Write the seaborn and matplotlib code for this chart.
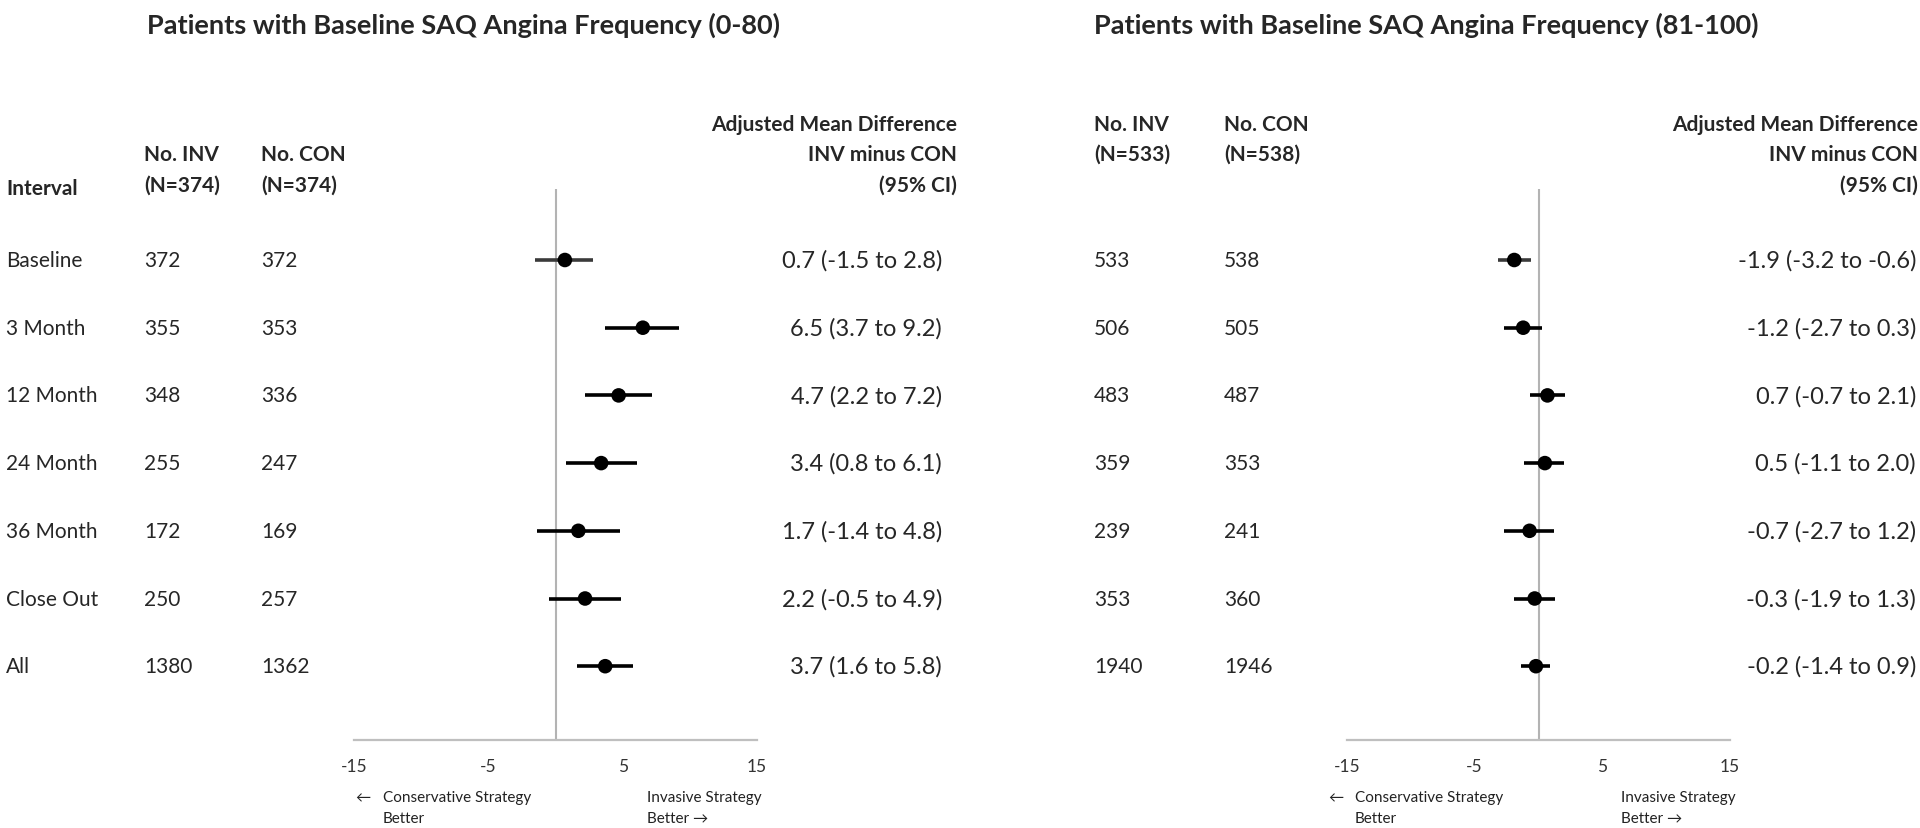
import matplotlib
matplotlib.use("Agg")
import matplotlib.pyplot as plt
import matplotlib.transforms as mtransforms
import seaborn as sns
import pandas as pd

# Data
intervals = ['Baseline', '3 Month', '12 Month', '24 Month', '36 Month', 'Close Out', 'All']

left_inv = [372, 355, 348, 255, 172, 250, 1380]
left_con = [372, 353, 336, 247, 169, 257, 1362]
left_mean = [0.7, 6.5, 4.7, 3.4, 1.7, 2.2, 3.7]
left_lo = [-1.5, 3.7, 2.2, 0.8, -1.4, -0.5, 1.6]
left_hi = [2.8, 9.2, 7.2, 6.1, 4.8, 4.9, 5.8]

right_inv = [533, 506, 483, 359, 239, 353, 1940]
right_con = [538, 505, 487, 353, 241, 360, 1946]
right_mean = [-1.9, -1.2, 0.7, 0.5, -0.7, -0.3, -0.2]
right_lo = [-3.2, -2.7, -0.7, -1.1, -2.7, -1.9, -1.4]
right_hi = [-0.6, 0.3, 2.1, 2.0, 1.2, 1.3, 0.9]

xticks = [-15, -5, 5, 15]

sns.set_style("white")
plt.rcParams['font.family'] = ['Lato', 'DejaVu Sans']

W, H = 1920, 829
fig = plt.figure(figsize=(W / 100, H / 100), dpi=100)


def fx(px):
    return px / W


def fy(py):
    return 1 - py / H


# row pixel layout: first row at 261, spacing ~67.7, axis from 190 to 741
ROW0, ROWSTEP = 261, 67.7
AX_TOP, AX_BOT = 190, 741


def forest(ax_left, ax_right, mean, lo, hi):
    ax = fig.add_axes([fx(ax_left), 1 - AX_BOT / H, fx(ax_right - ax_left), (AX_BOT - AX_TOP) / H])
    df = pd.DataFrame({'row': range(len(mean)), 'mean': mean, 'lo': lo, 'hi': hi})
    colors = ['#3a3a3a'] + ['black'] * (len(mean) - 1)
    ax.hlines(df['row'], df['lo'], df['hi'], colors=colors, lw=2.6, zorder=2)
    sns.scatterplot(data=df, x='mean', y='row', ax=ax, color='black', s=110,
                    edgecolor='none', zorder=3, legend=False)
    ax.axvline(0, color='#b3b3b3', lw=1.5, zorder=1)
    ax.set_xlim(-15, 15)
    ax.set_ylim((AX_BOT - ROW0) / ROWSTEP, (AX_TOP - ROW0) / ROWSTEP)
    ax.set_xticks(xticks)
    ax.set_xticklabels([str(t) for t in xticks], fontsize=12.5, color='#333333')
    ax.tick_params(axis='x', length=0, pad=13)
    ax.set_yticks([])
    ax.set_xlabel('')
    ax.set_ylabel('')
    for s in ['top', 'right', 'left']:
        ax.spines[s].set_visible(False)
    ax.spines['bottom'].set_color('#bfbfbf')
    ax.spines['bottom'].set_linewidth(1.6)
    ax.patch.set_alpha(0)
    return ax


ax1 = forest(354, 757, left_mean, left_lo, left_hi)
ax2 = forest(1347, 1730, right_mean, right_lo, right_hi)

BODY = 15
VAL = 17
HEAD = 15
TITLE = 19.5


def rows_text(ax, xpx, values, ha='left', size=BODY):
    tr = mtransforms.blended_transform_factory(fig.transFigure, ax.transData)
    for i, v in enumerate(values):
        fig.text(fx(xpx), i, v, transform=tr, ha=ha, va='center', fontsize=size)


def fmt(m, l, h):
    return f"{m} ({l} to {h})"


# left panel
fig.text(fx(147), fy(25), 'Patients with Baseline SAQ Angina Frequency (0-80)',
         fontsize=TITLE, fontweight='bold', ha='left', va='center')
fig.text(fx(6), fy(189), 'Interval', fontsize=HEAD, fontweight='bold', va='center')
fig.text(fx(144), fy(155), 'No. INV', fontsize=HEAD, fontweight='bold', va='center')
fig.text(fx(144), fy(186), '(N=374)', fontsize=HEAD, fontweight='bold', va='center')
fig.text(fx(261), fy(155), 'No. CON', fontsize=HEAD, fontweight='bold', va='center')
fig.text(fx(261), fy(186), '(N=374)', fontsize=HEAD, fontweight='bold', va='center')
for y, t in zip([125, 155, 186], ['Adjusted Mean Difference', 'INV minus CON', '(95% CI)']):
    fig.text(fx(957), fy(y), t, fontsize=HEAD, fontweight='bold', ha='right', va='center')
rows_text(ax1, 6, intervals)
rows_text(ax1, 144, [str(v) for v in left_inv])
rows_text(ax1, 261, [str(v) for v in left_con])
rows_text(ax1, 942, [fmt(m, l, h) for m, l, h in zip(left_mean, left_lo, left_hi)], ha='right', size=VAL)

# right panel
fig.text(fx(1094), fy(25), 'Patients with Baseline SAQ Angina Frequency (81-100)',
         fontsize=TITLE, fontweight='bold', ha='left', va='center')
fig.text(fx(1094), fy(125), 'No. INV', fontsize=HEAD, fontweight='bold', va='center')
fig.text(fx(1094), fy(155), '(N=533)', fontsize=HEAD, fontweight='bold', va='center')
fig.text(fx(1224), fy(125), 'No. CON', fontsize=HEAD, fontweight='bold', va='center')
fig.text(fx(1224), fy(155), '(N=538)', fontsize=HEAD, fontweight='bold', va='center')
for y, t in zip([125, 155, 186], ['Adjusted Mean Difference', 'INV minus CON', '(95% CI)']):
    fig.text(fx(1918), fy(y), t, fontsize=HEAD, fontweight='bold', ha='right', va='center')
rows_text(ax2, 1094, [str(v) for v in right_inv])
rows_text(ax2, 1224, [str(v) for v in right_con])
rows_text(ax2, 1916, [fmt(m, l, h) for m, l, h in zip(right_mean, right_lo, right_hi)], ha='right', size=VAL)

# direction labels
SMALL = 11
for arrow_x, cons_x, inv_x in [(355, 383, 647), (1328, 1355, 1621)]:
    fig.text(fx(arrow_x), fy(798), '\u2190', fontsize=SMALL, va='center', color='#222222')
    fig.text(fx(cons_x), fy(798), 'Conservative Strategy', fontsize=SMALL, va='center', color='#222222')
    fig.text(fx(cons_x), fy(819), 'Better', fontsize=SMALL, va='center', color='#222222')
    fig.text(fx(inv_x), fy(798), 'Invasive Strategy', fontsize=SMALL, va='center', color='#222222')
    fig.text(fx(inv_x), fy(819), 'Better \u2192', fontsize=SMALL, va='center', color='#222222')

fig.savefig('out.png', dpi=100)
